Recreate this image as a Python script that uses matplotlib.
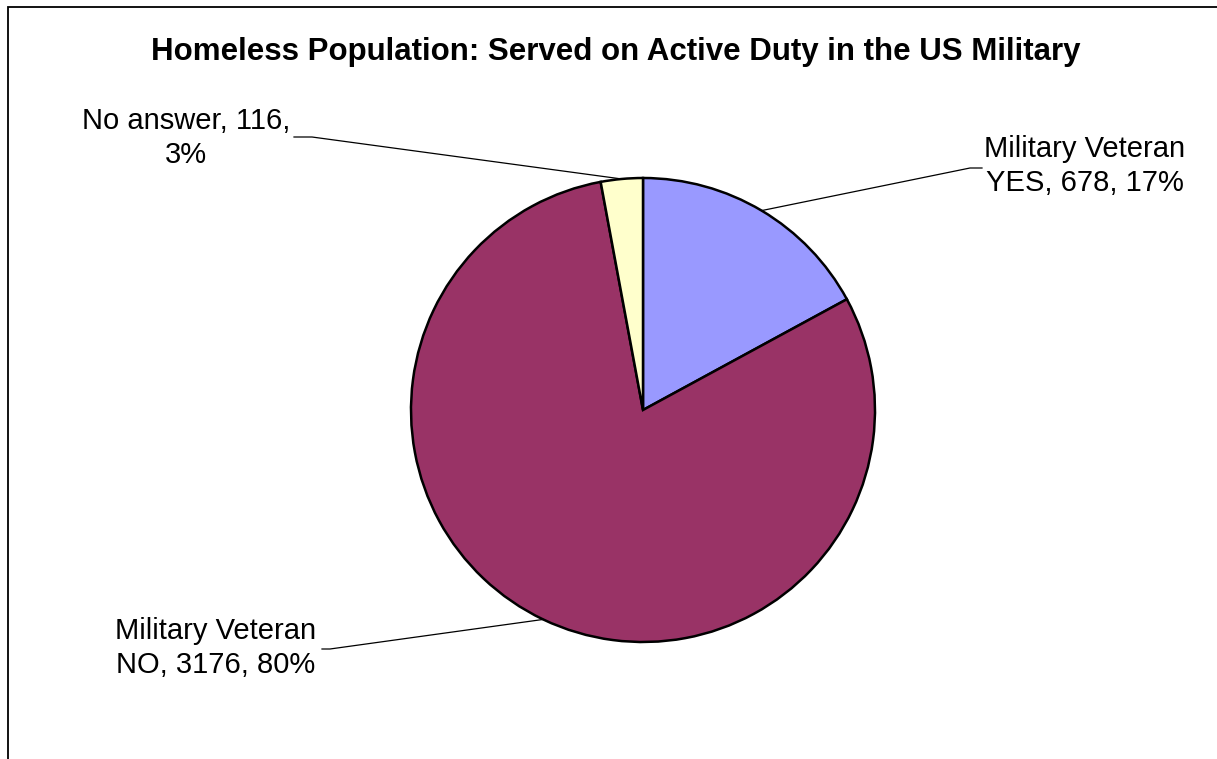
import numpy as np
import matplotlib
matplotlib.use("Agg")
import matplotlib.pyplot as plt
from matplotlib.patches import Rectangle

plt.rcParams['font.family'] = ['Liberation Sans', 'DejaVu Sans']

# Survey counts, in the order the wedges are drawn (clockwise from 12 o'clock)
categories = ["Military Veteran\nYES", "Military Veteran\nNO", "No answer"]
counts = [678, 3176, 116]
colors = ["#9999FF", "#993366", "#FFFFCC"]

W, H = 1217, 759
fig = plt.figure(figsize=(W / 100, H / 100), dpi=100)
ax = fig.add_axes([0, 0, 1, 1])

# chart-area frame, open on the right and bottom
fig.patches.append(Rectangle((8 / W, -0.1), 1.2, 1 - 7 / H + 0.1,
                             transform=fig.transFigure, fill=False,
                             edgecolor="black", linewidth=1.3))

cx, cy, r = 643, H - 410, 232
wedges, _ = ax.pie(counts, colors=colors, startangle=90, counterclock=False,
                   center=(cx, cy), radius=r, frame=True,
                   wedgeprops=dict(edgecolor="black", linewidth=1.8))
ax.set_xlim(0, W)
ax.set_ylim(0, H)
ax.set_axis_off()

total = sum(counts)
# label position (centre of text block) and elbow of the leader line
label_pos = [(1085, H - 166), (216, H - 648), (186, H - 138)]
elbows = [((970, H - 168), (982, H - 168)),
          ((330, H - 649), (322, H - 649)),
          ((312, H - 137), (294, H - 137))]

for w, cat, n, (lx, ly), (e1, e2) in zip(wedges, categories, counts,
                                          label_pos, elbows):
    mid = np.deg2rad((w.theta1 + w.theta2) / 2)
    px, py = cx + r * np.cos(mid), cy + r * np.sin(mid)
    ax.plot([px, e1[0], e2[0]], [py, e1[1], e2[1]], color="black",
            linewidth=0.9, zorder=1)
    pct = round(100 * n / total)
    if cat == "No answer":
        txt = f"{cat}, {n},\n{pct}%"
    else:
        txt = f"{cat}, {n}, {pct}%"
    ax.text(lx, ly, txt, ha="center", va="center", fontsize=21,
            linespacing=1.3)

fig.text(616 / W, 1 - 52 / H,
         "Homeless Population: Served on Active Duty in the US Military",
         ha="center", va="center", fontsize=22.5, fontweight="bold")

fig.savefig("out.png", dpi=100, facecolor="white")
